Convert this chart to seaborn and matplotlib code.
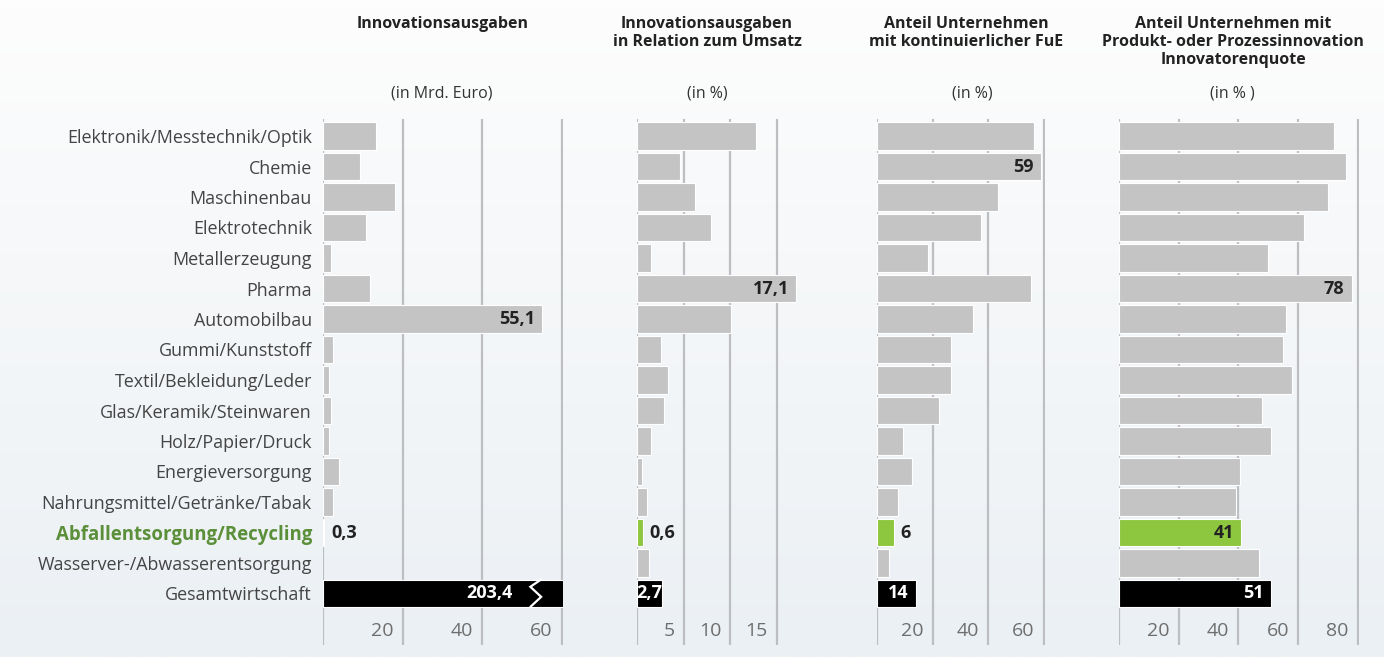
import numpy as np
import pandas as pd
import matplotlib
matplotlib.use("Agg")
import matplotlib.pyplot as plt
import matplotlib.transforms as mtransforms
import seaborn as sns

# ---- data -------------------------------------------------------------
branchen = [
    "Elektronik/Messtechnik/Optik", "Chemie", "Maschinenbau", "Elektrotechnik",
    "Metallerzeugung", "Pharma", "Automobilbau", "Gummi/Kunststoff",
    "Textil/Bekleidung/Leder", "Glas/Keramik/Steinwaren", "Holz/Papier/Druck",
    "Energieversorgung", "Nahrungsmittel/Getränke/Tabak",
    "Abfallentsorgung/Recycling", "Wasserver-/Abwasserentsorgung",
    "Gesamtwirtschaft",
]
ausgaben_mrd = [13.4, 9.4, 18.1, 10.7, 2.1, 11.9, 55.1, 2.4, 1.4, 1.9, 1.4,
                3.9, 2.6, 0.3, np.nan, 203.4]
ausgaben_umsatz = [12.8, 4.6, 6.25, 7.95, 1.45, 17.1, 10.05, 2.6, 3.35, 2.9,
                   1.5, 0.55, 1.1, 0.6, 1.3, 2.7]
anteil_fue = [56.6, 59, 43.6, 37.5, 18.5, 55.5, 34.6, 26.7, 26.7, 22.4, 9.5,
              12.7, 7.7, 6, 4.4, 14]
innovatorenquote = [72, 76, 70, 62, 50, 78, 56, 55, 58, 48, 51, 40.5, 39.3,
                    41, 47, 51]

titel = [
    "Innovationsausgaben",
    "Innovationsausgaben\nin Relation zum Umsatz",
    "Anteil Unternehmen\nmit kontinuierlicher FuE",
    "Anteil Unternehmen mit\nProdukt- oder Prozessinnovation\nInnovatorenquote",
]
einheiten = ["(in Mrd. Euro)", "(in %)", "(in %)", "(in % )"]
ticks = [[20, 40, 60], [5, 10, 15], [20, 40, 60], [20, 40, 60, 80]]
beschriftet = [
    ["Automobilbau", "Abfallentsorgung/Recycling", "Gesamtwirtschaft"],
    ["Pharma", "Abfallentsorgung/Recycling", "Gesamtwirtschaft"],
    ["Chemie", "Abfallentsorgung/Recycling", "Gesamtwirtschaft"],
    ["Pharma", "Abfallentsorgung/Recycling", "Gesamtwirtschaft"],
]
dezimalen = [1, 1, 0, 0]

df = pd.DataFrame({
    "Branche": branchen,
    "ausgaben_mrd": ausgaben_mrd,
    "ausgaben_umsatz": ausgaben_umsatz,
    "anteil_fue": anteil_fue,
    "innovatorenquote": innovatorenquote,
})
spalten = ["ausgaben_mrd", "ausgaben_umsatz", "anteil_fue", "innovatorenquote"]

# ---- styling ----------------------------------------------------------
sns.set_theme(style="white")
plt.rcParams["font.family"] = ["Open Sans", "DejaVu Sans"]

GRAU = "#c3c4c3"
GRUEN = "#8dc63f"
GRUEN_TEXT = "#5b8f3a"
SCHWARZ = "#000000"
RASTER = "#bdbec1"
TEXT = "#444444"

farben = {b: GRAU for b in branchen}
farben["Abfallentsorgung/Recycling"] = GRUEN
farben["Gesamtwirtschaft"] = SCHWARZ

W, H = 1384, 657
fig = plt.figure(figsize=(W / 100, H / 100), dpi=100)

# soft vertical background gradient
bg = fig.add_axes([0, 0, 1, 1], zorder=-10)
grad = np.linspace(0, 1, 256)[:, None]
top = np.array([253, 253, 253]) / 255
bot = np.array([235, 240, 244]) / 255
img = top[None, None, :] * (1 - grad[..., None]) + bot[None, None, :] * grad[..., None]
bg.imshow(np.repeat(img, 2, axis=1), aspect="auto", extent=[0, 1, 0, 1])
bg.axis("off")

# panel geometry (pixels)
ax_top, ax_bot = 119, 645
panels = [  # left px, right px, xmax
    (323, 563, 60.3),
    (637, 800, 17.5),
    (877, 1045, 60.5),
    (1119, 1359, 80.5),
]
titel_x = [443, 707, 966, 1233]
einheit_x = [442, 707, 972, 1232]

pitch = 30.5
n = len(branchen)
y_top = -(136 - ax_top) / pitch
y_bot = y_top + (ax_bot - ax_top) / pitch

axes = []
for i, ((l, r, xmax), col) in enumerate(zip(panels, spalten)):
    ax = fig.add_axes([l / W, 1 - ax_bot / H, (r - l) / W, (ax_bot - ax_top) / H])
    ax.set_facecolor("none")
    sns.barplot(
        data=df, x=col, y="Branche", hue="Branche", order=branchen,
        hue_order=branchen, palette=farben, legend=False, orient="h",
        width=0.91, saturation=1, edgecolor="white", linewidth=0.8, ax=ax,
        zorder=2,
    )
    ax.set_xlim(0, xmax)
    ax.set_ylim(y_bot, y_top)
    for s in ax.spines.values():
        s.set_visible(False)
    ax.set_xlabel("")
    ax.set_ylabel("")
    ax.set_xticks([])

    # vertical grid lines incl. zero line
    for t in [0] + ticks[i]:
        ax.axvline(t, color=RASTER, lw=1.6, zorder=0)
    tick_y = 15 + (631 - 594) / pitch
    off_left = mtransforms.offset_copy(ax.transData, fig=fig, x=-9, y=0, units="dots")
    for t in ticks[i]:
        ax.text(t, tick_y, str(t), transform=off_left, ha="right", va="center",
                fontsize=14, color="#6e6e6e")

    if i == 0:
        ax.set_yticks(range(n))
        ax.set_yticklabels(branchen)
        ax.tick_params(axis="y", length=0, pad=8, labelsize=12.9, labelcolor=TEXT)
        for lab in ax.get_yticklabels():
            if lab.get_text() == "Abfallentsorgung/Recycling":
                lab.set_color(GRUEN_TEXT)
                lab.set_fontweight("bold")
                lab.set_fontsize(13.4)
    else:
        ax.set_yticks([])

    # value labels
    px_per_unit = (r - l) / xmax
    for b in beschriftet[i]:
        k = branchen.index(b)
        v = df.loc[k, col]
        txt = f"{v:.{dezimalen[i]}f}".replace(".", ",")
        v_draw = min(v, xmax)
        bar_px = v_draw * px_per_unit
        kw = dict(va="center", fontsize=13, fontweight="bold")
        farbe = "white" if b == "Gesamtwirtschaft" else "#222222"
        if b == "Gesamtwirtschaft" and v > xmax:
            # truncated bar: break mark near the axis end
            xb0, xb1 = xmax * 0.864, xmax * 0.909
            ax.plot([xb1, xb0, xb1, xb0], [k - 0.46, k - 0.22, k + 0.11, k + 0.44],
                    color="white", lw=1.6, zorder=4, solid_joinstyle="miter")
            tr = mtransforms.offset_copy(ax.transData, fig=fig, x=-18, y=0, units="dots")
            ax.text(xb0, k, txt, transform=tr, ha="right", color=farbe, zorder=5, **kw)
        elif bar_px < 32:
            if b == "Gesamtwirtschaft":
                ax.text(v / 2, k, txt, ha="center", color=farbe, zorder=5, **kw)
            else:
                tr = mtransforms.offset_copy(ax.transData, fig=fig, x=7, y=0, units="dots")
                ax.text(v, k, txt, transform=tr, ha="left", color=farbe, zorder=5, **kw)
        else:
            tr = mtransforms.offset_copy(ax.transData, fig=fig, x=-7, y=0, units="dots")
            ax.text(v, k, txt, transform=tr, ha="right", color=farbe, zorder=5, **kw)
    axes.append(ax)

# panel headings
for i in range(4):
    fig.text(titel_x[i] / W, 1 - 16 / H, titel[i], ha="center", va="top",
             fontsize=11.5, fontweight="bold", color="#222222", linespacing=1.15)
    fig.text(einheit_x[i] / W, 1 - 94 / H, einheiten[i], ha="center",
             va="center", fontsize=11.5, color="#333333")

fig.savefig("out.png", dpi=100)
